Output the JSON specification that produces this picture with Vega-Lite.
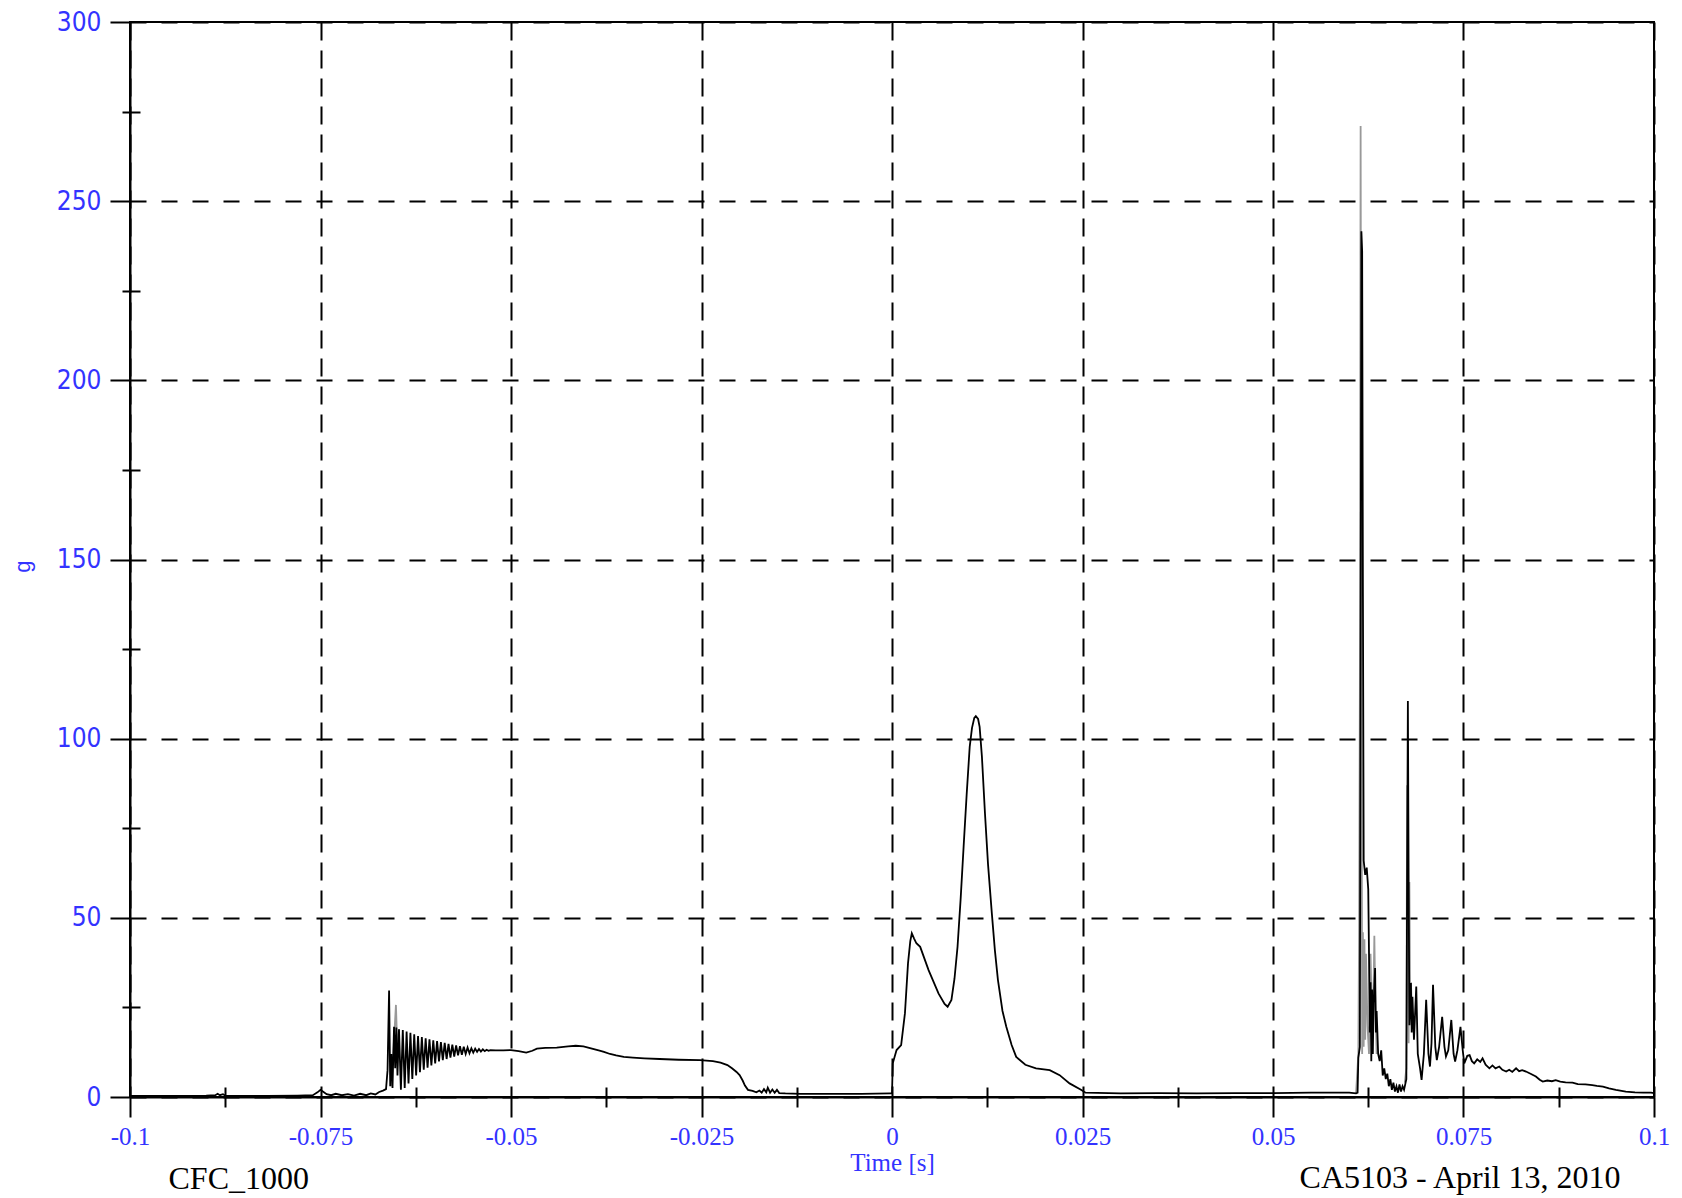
{
"$schema": "https://vega.github.io/schema/vega-lite/v6.json",
"width": 1524,
"height": 1075,
"autosize": {"type": "none"},
"padding": {"left": 130, "top": 22, "right": 28, "bottom": 101},
"background": "white",
"config": {"view": {"stroke": "black", "strokeWidth": 2}},
"datasets": {
"gray": [
{"t": -0.0657, "g": 3.0, "seg": 1}, {"t": -0.0654, "g": 14, "seg": 1}, {"t": -0.0651, "g": 25.7, "seg": 1}, {"t": -0.0649, "g": 12, "seg": 1}, {"t": -0.0647, "g": 18.9, "seg": 1},
{"t": 0.0609, "g": 1.0, "seg": 2}, {"t": 0.0612, "g": 12, "seg": 2}, {"t": 0.0613, "g": 46, "seg": 2}, {"t": 0.0614, "g": 114, "seg": 2}, {"t": 0.0615, "g": 271, "seg": 2}, {"t": 0.0616, "g": 140, "seg": 2}, {"t": 0.0617, "g": 12, "seg": 2}, {"t": 0.0618, "g": 46, "seg": 2}, {"t": 0.0619, "g": 14, "seg": 2}, {"t": 0.062, "g": 44, "seg": 2}, {"t": 0.0621, "g": 16, "seg": 2}, {"t": 0.0622, "g": 40, "seg": 2}, {"t": 0.0624, "g": 20, "seg": 2}, {"t": 0.0626, "g": 12, "seg": 2}, {"t": 0.0628, "g": 40, "seg": 2}, {"t": 0.063, "g": 20, "seg": 2}, {"t": 0.0632, "g": 30, "seg": 2}, {"t": 0.0633, "g": 45, "seg": 2}, {"t": 0.0634, "g": 30, "seg": 2}, {"t": 0.0636, "g": 12, "seg": 2},
{"t": 0.0673, "g": 4, "seg": 3}, {"t": 0.0675, "g": 8, "seg": 3}, {"t": 0.0676, "g": 87, "seg": 3}, {"t": 0.0677, "g": 50, "seg": 3}, {"t": 0.0678, "g": 15, "seg": 3}, {"t": 0.0679, "g": 60, "seg": 3}, {"t": 0.068, "g": 25, "seg": 3}, {"t": 0.0681, "g": 32, "seg": 3}, {"t": 0.0683, "g": 20, "seg": 3}
],
"black": [
{"t": -0.1, "g": 0.3}, {"t": -0.095, "g": 0.3}, {"t": -0.09, "g": 0.4}, {"t": -0.0888, "g": 0.5}, {"t": -0.0885, "g": 0.9}, {"t": -0.0882, "g": 0.5}, {"t": -0.0878, "g": 0.8}, {"t": -0.0874, "g": 0.3}, {"t": -0.082, "g": 0.3}, {"t": -0.078, "g": 0.4}, {"t": -0.076, "g": 0.5}, {"t": -0.0754, "g": 1.3}, {"t": -0.075, "g": 2.0}, {"t": -0.0746, "g": 1.4}, {"t": -0.0742, "g": 0.8}, {"t": -0.0736, "g": 0.5}, {"t": -0.073, "g": 0.9}, {"t": -0.0722, "g": 0.5}, {"t": -0.0714, "g": 0.8}, {"t": -0.0706, "g": 0.4}, {"t": -0.0698, "g": 0.9}, {"t": -0.069, "g": 0.5}, {"t": -0.0684, "g": 1.0}, {"t": -0.0678, "g": 0.7}, {"t": -0.0673, "g": 1.4}, {"t": -0.0668, "g": 1.8}, {"t": -0.0664, "g": 2.2}, {"t": -0.0662, "g": 7.5}, {"t": -0.066, "g": 29.7}, {"t": -0.06585, "g": 3.0}, {"t": -0.0657, "g": 12.0}, {"t": -0.06555, "g": 2.5}, {"t": -0.06535, "g": 19.6}, {"t": -0.0652, "g": 8.0}, {"t": -0.06505, "g": 19.4}, {"t": -0.0649, "g": 6.0}, {"t": -0.0647, "g": 18.9}, {"t": -0.06445, "g": 2.0}, {"t": -0.0642, "g": 18.7}, {"t": -0.06395, "g": 2.5}, {"t": -0.0637, "g": 18.3}, {"t": -0.06345, "g": 3.8}, {"t": -0.0632, "g": 17.9}, {"t": -0.06295, "g": 5.0}, {"t": -0.0627, "g": 17.5}, {"t": -0.06245, "g": 6.0}, {"t": -0.0622, "g": 17.0}, {"t": -0.06195, "g": 6.9}, {"t": -0.0617, "g": 16.7}, {"t": -0.06145, "g": 7.6}, {"t": -0.0612, "g": 16.4}, {"t": -0.06095, "g": 8.2}, {"t": -0.0607, "g": 16.1}, {"t": -0.06045, "g": 8.8}, {"t": -0.0602, "g": 15.8}, {"t": -0.05995, "g": 9.4}, {"t": -0.0597, "g": 15.6}, {"t": -0.05945, "g": 9.9}, {"t": -0.0592, "g": 15.3}, {"t": -0.05895, "g": 10.3}, {"t": -0.0587, "g": 15.1}, {"t": -0.05845, "g": 10.6}, {"t": -0.0582, "g": 14.8}, {"t": -0.05795, "g": 11.0}, {"t": -0.0577, "g": 14.6}, {"t": -0.05745, "g": 11.3}, {"t": -0.0572, "g": 14.4}, {"t": -0.05695, "g": 11.6}, {"t": -0.0567, "g": 14.2}, {"t": -0.05645, "g": 11.8}, {"t": -0.0562, "g": 14.0}, {"t": -0.05595, "g": 12.0}, {"t": -0.0557, "g": 13.8}, {"t": -0.05545, "g": 12.2}, {"t": -0.0552, "g": 13.6}, {"t": -0.05495, "g": 12.4}, {"t": -0.0547, "g": 13.5}, {"t": -0.05445, "g": 12.6}, {"t": -0.0542, "g": 13.4}, {"t": -0.05395, "g": 12.7}, {"t": -0.0537, "g": 13.3}, {"t": -0.05345, "g": 12.8}, {"t": -0.0532, "g": 13.2}, {"t": -0.05295, "g": 12.9}, {"t": -0.0527, "g": 13.1}, {"t": -0.052, "g": 13.0}, {"t": -0.051, "g": 13.0}, {"t": -0.05, "g": 13.1}, {"t": -0.049, "g": 12.8}, {"t": -0.048, "g": 12.4}, {"t": -0.0472, "g": 12.9}, {"t": -0.0466, "g": 13.5}, {"t": -0.0455, "g": 13.7}, {"t": -0.044, "g": 13.8}, {"t": -0.0425, "g": 14.1}, {"t": -0.0415, "g": 14.3}, {"t": -0.0405, "g": 14.1}, {"t": -0.0395, "g": 13.6}, {"t": -0.0385, "g": 13.0}, {"t": -0.0378, "g": 12.6}, {"t": -0.037, "g": 12.0}, {"t": -0.0362, "g": 11.6}, {"t": -0.0352, "g": 11.2}, {"t": -0.034, "g": 11.0}, {"t": -0.0325, "g": 10.8}, {"t": -0.0305, "g": 10.6}, {"t": -0.028, "g": 10.4}, {"t": -0.0252, "g": 10.3}, {"t": -0.0235, "g": 10.0}, {"t": -0.0225, "g": 9.6}, {"t": -0.0216, "g": 8.9}, {"t": -0.021, "g": 8.0}, {"t": -0.0204, "g": 7.0}, {"t": -0.02, "g": 6.1}, {"t": -0.0196, "g": 4.6}, {"t": -0.0193, "g": 3.2}, {"t": -0.0189, "g": 2.0}, {"t": -0.0183, "g": 1.7}, {"t": -0.0178, "g": 1.3}, {"t": -0.0174, "g": 1.8}, {"t": -0.0171, "g": 1.2}, {"t": -0.0168, "g": 2.2}, {"t": -0.0165, "g": 1.3}, {"t": -0.0163, "g": 2.6}, {"t": -0.016, "g": 1.2}, {"t": -0.0157, "g": 2.1}, {"t": -0.0154, "g": 1.2}, {"t": -0.0151, "g": 2.0}, {"t": -0.0148, "g": 1.1}, {"t": -0.014, "g": 1.0}, {"t": -0.012, "g": 0.9}, {"t": -0.008, "g": 0.9}, {"t": -0.004, "g": 0.9}, {"t": -0.0002, "g": 1.0}, {"t": 0.0, "g": 1.0},
{"t": 0.0001, "g": 9.4}, {"t": 0.0006, "g": 13.1}, {"t": 0.0012, "g": 14.5}, {"t": 0.0017, "g": 23.4}, {"t": 0.0021, "g": 37.3}, {"t": 0.0024, "g": 43.5}, {"t": 0.0026, "g": 45.7}, {"t": 0.0029, "g": 44.2}, {"t": 0.0032, "g": 42.9}, {"t": 0.0037, "g": 41.9}, {"t": 0.0048, "g": 35.4}, {"t": 0.0061, "g": 28.9}, {"t": 0.0069, "g": 26.0}, {"t": 0.0073, "g": 25.2}, {"t": 0.0078, "g": 27.1}, {"t": 0.0082, "g": 33.0}, {"t": 0.0086, "g": 41.9}, {"t": 0.009, "g": 55.0}, {"t": 0.0094, "g": 69.9}, {"t": 0.0098, "g": 84.5}, {"t": 0.0102, "g": 97.8}, {"t": 0.0105, "g": 103.0}, {"t": 0.0108, "g": 105.8}, {"t": 0.011, "g": 106.3}, {"t": 0.0113, "g": 105.5}, {"t": 0.0115, "g": 103.3}, {"t": 0.0118, "g": 95.0}, {"t": 0.0122, "g": 79.2}, {"t": 0.0126, "g": 65.0}, {"t": 0.0131, "g": 51.3}, {"t": 0.0135, "g": 41.0}, {"t": 0.0139, "g": 32.7}, {"t": 0.0145, "g": 24.0}, {"t": 0.015, "g": 19.6}, {"t": 0.0157, "g": 14.5}, {"t": 0.0163, "g": 11.2}, {"t": 0.0175, "g": 9.0}, {"t": 0.0189, "g": 8.0}, {"t": 0.0207, "g": 7.5}, {"t": 0.022, "g": 6.1}, {"t": 0.0233, "g": 3.8}, {"t": 0.0248, "g": 2.0}, {"t": 0.0254, "g": 1.2}, {"t": 0.03, "g": 1.0}, {"t": 0.035, "g": 1.1}, {"t": 0.04, "g": 1.0}, {"t": 0.045, "g": 1.1}, {"t": 0.05, "g": 1.1}, {"t": 0.055, "g": 1.2}, {"t": 0.06, "g": 1.2}, {"t": 0.0609, "g": 1.0},
{"t": 0.0611, "g": 1.2}, {"t": 0.0612, "g": 11}, {"t": 0.0614, "g": 14}, {"t": 0.0616, "g": 241.6}, {"t": 0.0617, "g": 236}, {"t": 0.0618, "g": 140}, {"t": 0.0619, "g": 66}, {"t": 0.0621, "g": 62}, {"t": 0.0623, "g": 64}, {"t": 0.0625, "g": 58}, {"t": 0.0626, "g": 40}, {"t": 0.0627, "g": 18}, {"t": 0.0628, "g": 32}, {"t": 0.0629, "g": 10}, {"t": 0.063, "g": 30}, {"t": 0.0631, "g": 12}, {"t": 0.0632, "g": 26}, {"t": 0.0634, "g": 36}, {"t": 0.0635, "g": 18}, {"t": 0.0636, "g": 24}, {"t": 0.0638, "g": 12}, {"t": 0.064, "g": 10}, {"t": 0.0642, "g": 13}, {"t": 0.0644, "g": 6}, {"t": 0.0646, "g": 8}, {"t": 0.0648, "g": 5}, {"t": 0.065, "g": 6.5}, {"t": 0.0652, "g": 3}, {"t": 0.0654, "g": 5}, {"t": 0.0656, "g": 2}, {"t": 0.0658, "g": 4}, {"t": 0.066, "g": 1.5}, {"t": 0.0662, "g": 3}, {"t": 0.0664, "g": 1.2}, {"t": 0.0666, "g": 3.5}, {"t": 0.0668, "g": 1.5}, {"t": 0.067, "g": 3}, {"t": 0.0672, "g": 2}, {"t": 0.0674, "g": 4}, {"t": 0.0675, "g": 5}, {"t": 0.0676, "g": 60}, {"t": 0.0677, "g": 110.5}, {"t": 0.0678, "g": 60}, {"t": 0.0679, "g": 20}, {"t": 0.0681, "g": 31.8}, {"t": 0.0682, "g": 18}, {"t": 0.0683, "g": 28}, {"t": 0.0685, "g": 16}, {"t": 0.0688, "g": 30.8}, {"t": 0.069, "g": 12}, {"t": 0.0693, "g": 8}, {"t": 0.0695, "g": 4.8}, {"t": 0.0698, "g": 12}, {"t": 0.0701, "g": 27.1}, {"t": 0.0704, "g": 12}, {"t": 0.0706, "g": 8.5}, {"t": 0.0708, "g": 15}, {"t": 0.071, "g": 31.3}, {"t": 0.0713, "g": 14}, {"t": 0.0715, "g": 10.3}, {"t": 0.0718, "g": 14}, {"t": 0.0722, "g": 22.4}, {"t": 0.0725, "g": 14}, {"t": 0.0727, "g": 11.3}, {"t": 0.073, "g": 13}, {"t": 0.0734, "g": 21.5}, {"t": 0.0737, "g": 12}, {"t": 0.0739, "g": 9.9}, {"t": 0.0742, "g": 13}, {"t": 0.0746, "g": 19.6}, {"t": 0.0749, "g": 13}, {"t": 0.0751, "g": 9.4},
{"t": 0.0755, "g": 11.5}, {"t": 0.0758, "g": 11.7}, {"t": 0.0761, "g": 10.0}, {"t": 0.0764, "g": 9.4}, {"t": 0.0768, "g": 10.5}, {"t": 0.0772, "g": 9.8}, {"t": 0.0775, "g": 10.8}, {"t": 0.0779, "g": 9.0}, {"t": 0.0784, "g": 8.0}, {"t": 0.0788, "g": 8.8}, {"t": 0.0792, "g": 8.0}, {"t": 0.0797, "g": 8.5}, {"t": 0.0801, "g": 7.6}, {"t": 0.0806, "g": 7.1}, {"t": 0.081, "g": 7.6}, {"t": 0.0814, "g": 7.0}, {"t": 0.0819, "g": 8.0}, {"t": 0.0823, "g": 7.2}, {"t": 0.0827, "g": 7.5}, {"t": 0.0832, "g": 7.1}, {"t": 0.0838, "g": 6.5}, {"t": 0.0845, "g": 5.7}, {"t": 0.085, "g": 4.8}, {"t": 0.0854, "g": 4.3}, {"t": 0.086, "g": 4.6}, {"t": 0.0866, "g": 4.4}, {"t": 0.0871, "g": 4.7}, {"t": 0.0877, "g": 4.3}, {"t": 0.0884, "g": 4.1}, {"t": 0.0893, "g": 4.0}, {"t": 0.09, "g": 3.6}, {"t": 0.091, "g": 3.5}, {"t": 0.0919, "g": 3.3}, {"t": 0.0925, "g": 3.1}, {"t": 0.0933, "g": 2.9}, {"t": 0.0941, "g": 2.4}, {"t": 0.095, "g": 2.0}, {"t": 0.0963, "g": 1.5}, {"t": 0.0975, "g": 1.3}, {"t": 0.0986, "g": 1.2}, {"t": 0.0996, "g": 1.2}, {"t": 0.1, "g": 1.1}
]
},
"resolve": {"axis": {"x": "independent", "y": "independent"}},
"layer": [
{
"data": {"name": "gray"},
"mark": {"type": "line", "color": "#999999", "strokeWidth": 1.8, "clip": true},
"encoding": {
"x": {"field": "t", "type": "quantitative", "scale": {"domain": [-0.1, 0.1], "nice": false, "zero": false},
"axis": {"orient": "bottom", "values": [-0.0875, -0.0625, -0.0375, -0.0125, 0.0125, 0.0375, 0.0625, 0.0875], "offset": -10, "tickSize": 20, "tickWidth": 2, "tickColor": "black", "labels": false, "domain": false, "grid": false,
"title": "CFC_1000", "titleFont": "Liberation Serif", "titleFontSize": 32, "titleFontWeight": "normal", "titleColor": "black", "titleX": 38, "titleY": 101, "titleAlign": "left", "titleBaseline": "alphabetic", "titleAngle": 0}},
"y": {"field": "g", "type": "quantitative", "scale": {"domain": [0, 300], "nice": false},
"axis": {"orient": "left", "values": [25, 75, 125, 175, 225, 275], "offset": -10, "tickSize": 18, "tickWidth": 2, "tickColor": "black", "labels": false, "domain": false, "grid": false,
"title": "CA5103 - April 13, 2010", "titleFont": "Liberation Serif", "titleFontSize": 32, "titleFontWeight": "normal", "titleColor": "black", "titleAngle": 0, "titleX": 1480, "titleY": 1165, "titleAlign": "right", "titleBaseline": "alphabetic"}},
"detail": {"field": "seg", "type": "nominal"}
}
},
{
"data": {"name": "black"},
"mark": {"type": "line", "color": "black", "strokeWidth": 1.8, "clip": true},
"encoding": {
"x": {"field": "t", "type": "quantitative", "scale": {"domain": [-0.1, 0.1], "nice": false, "zero": false},
"axis": {"orient": "bottom", "values": [-0.1, -0.075, -0.05, -0.025, 0, 0.025, 0.05, 0.075, 0.1], "labelExpr": "'' + datum.value", "labelFont": "Liberation Serif", "labelFontSize": 25, "labelColor": "#3333ff", "labelPadding": 7, "labelFlush": false, "labelOverlap": false,
"tickSize": 20, "tickWidth": 2, "tickColor": "black", "domain": true, "domainColor": "black", "domainWidth": 2,
"grid": true, "gridColor": "black", "gridWidth": 2, "gridDash": [18, 10], "gridOpacity": 1,
"title": "Time [s]", "titleFont": "Liberation Serif", "titleFontSize": 25, "titleFontWeight": "normal", "titleColor": "#3333ff", "titleX": 762, "titleY": 73, "titleAlign": "center", "titleBaseline": "alphabetic", "titleAngle": 0}},
"y": {"field": "g", "type": "quantitative", "scale": {"domain": [0, 300], "nice": false},
"axis": {"orient": "left", "values": [0, 50, 100, 150, 200, 250, 300], "labelFont": "Liberation Sans Narrow, DejaVu Sans Condensed, Liberation Sans", "labelFontSize": 26, "labelColor": "#3333ff", "labelPadding": 9, "labelFlush": false, "labelOverlap": false,
"tickSize": 20, "tickWidth": 2, "tickColor": "black", "domain": true, "domainColor": "black", "domainWidth": 2,
"grid": true, "gridColor": "black", "gridWidth": 2, "gridDash": [16, 15], "gridOpacity": 1,
"title": "g", "titleFont": "Liberation Sans", "titleFontSize": 22, "titleFontWeight": "normal", "titleColor": "#3333ff", "titleAngle": 270, "titleX": -108, "titleY": 544, "titleAlign": "center", "titleBaseline": "middle"}}
}
}
]
}
